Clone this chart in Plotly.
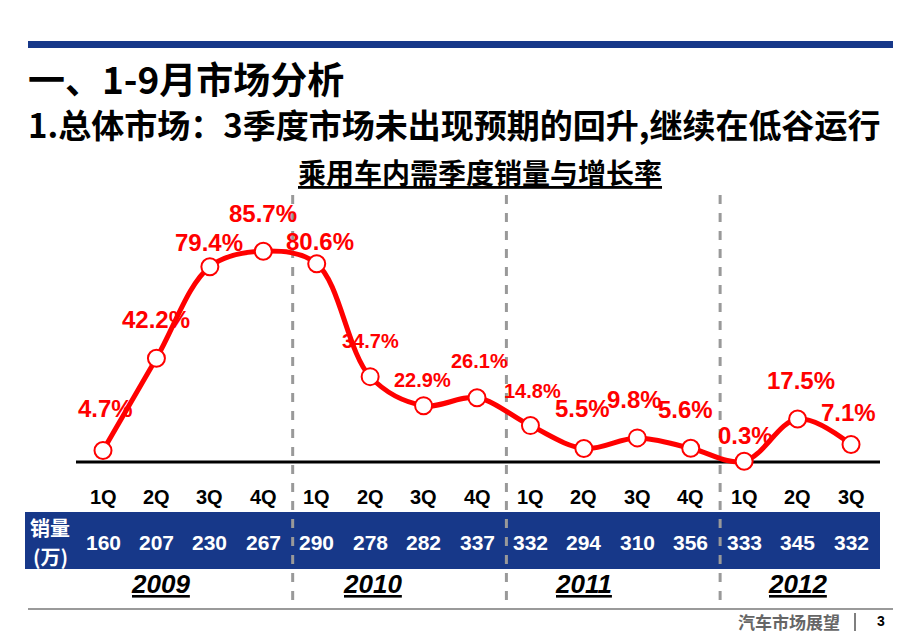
import plotly.graph_objects as go

# dados do grafico
trimestres = ['1Q', '2Q', '3Q', '4Q', '1Q', '2Q', '3Q', '4Q',
              '1Q', '2Q', '3Q', '4Q', '1Q', '2Q', '3Q']
crescimento = [4.7, 42.2, 79.4, 85.7, 80.6, 34.7, 22.9, 26.1,
               14.8, 5.5, 9.8, 5.6, 0.3, 17.5, 7.1]
vendas = [160, 207, 230, 267, 290, 278, 282, 337,
          332, 294, 310, 356, 333, 345, 332]
anos = ['2009', '2010', '2011', '2012']

# a pagina tem margem de 8px no body, entao a figura comeca em (8, 8)
OX, OY = 8, 8
W, H = 912, 629
AZUL = '#173889'
VERMELHO = '#ff0000'
LATIN = 'Liberation Sans, Noto Sans CJK SC, sans-serif'
CJK = 'Noto Sans CJK SC, sans-serif'

# escala: trimestre i -> pixel 103 + 53.43*i ; valor v -> pixel 462 - 2.46*v
PASSO_X, X0 = 53.43, 103
PASSO_Y, Y0 = 2.46, 462
faixa_x = [(OX - X0) / PASSO_X, (OX + W - X0) / PASSO_X]
faixa_y = [(Y0 - OY - H) / PASSO_Y, (Y0 - OY) / PASSO_Y]


def px(x):
    return (x - OX) / W


def py(y):
    return 1 - (y - OY) / H


def texto(t, x, y, size, color='black', family=CJK, xanchor='center', xref='paper'):
    return dict(text=t, xref=xref, yref='paper', x=x if xref == 'x' else px(x), y=py(y),
                xanchor=xanchor, yanchor='middle', showarrow=False,
                font=dict(family=family, size=size, color=color))


idx = list(range(len(crescimento)))

fig = go.Figure()
fig.add_trace(go.Scatter(
    x=idx, y=crescimento, mode='lines+markers',
    line=dict(color=VERMELHO, width=5, shape='spline', smoothing=1),
    marker=dict(size=17, color='white', line=dict(color=VERMELHO, width=2)),
    hoverinfo='skip', showlegend=False,
))

shapes = []
# barra azul do topo
shapes.append(dict(type='rect', xref='paper', yref='paper', x0=px(28), x1=px(893),
                   y0=py(48), y1=py(41), fillcolor=AZUL, line_width=0, layer='below'))
# faixa azul da tabela
shapes.append(dict(type='rect', xref='paper', yref='paper', x0=px(25), x1=px(880),
                   y0=py(569), y1=py(512), fillcolor=AZUL, line_width=0, layer='below'))
# linha base
shapes.append(dict(type='line', xref='paper', yref='y', x0=px(76), x1=px(880),
                   y0=0, y1=0, line=dict(color='black', width=3), layer='below'))
# separadores dos anos
for s in [3.55, 7.55, 11.55]:
    shapes.append(dict(type='line', xref='x', yref='paper', x0=s, x1=s,
                       y0=py(600), y1=py(195),
                       line=dict(color='#999999', width=3, dash='dash'), layer='below'))
# linha do rodape
shapes.append(dict(type='line', xref='paper', yref='paper', x0=px(28), x1=px(893),
                   y0=py(609), y1=py(609), line=dict(color='#9a9a9a', width=2)))
shapes.append(dict(type='line', xref='paper', yref='paper', x0=px(855), x1=px(855),
                   y0=py(631), y1=py(613), line=dict(color='#555555', width=1.5)))

ann = []
# titulos
ann.append(texto('<b>一、1-9月市场分析</b>', 26, 78, 37, xanchor='left'))
ann.append(texto('<b>1.总体市场：3季度市场未出现预期的回升,继续在低谷运行</b>', 26, 124, 33,
                 xanchor='left'))
ann.append(texto('<b><u>乘用车内需季度销量与增长率</u></b>', 480, 172, 28))

# rotulos de crescimento
dx = [2, 0, -1, 0, 3, 0, -1, 2, 2, -1, -3, -5, 1, 3, -3]
dy = [42, 39, 24, 38, 22, 36, 26, 37, 35, 40, 38, 39, 26, 38, 32]
pequenos = {5, 6, 7, 8}
for i, v in enumerate(crescimento):
    ann.append(dict(text='<b>%.1f%%</b>' % v, x=i, y=v, xref='x', yref='y',
                    xanchor='center', yanchor='middle',
                    xshift=dx[i], yshift=dy[i], showarrow=False,
                    font=dict(family=LATIN, size=20 if i in pequenos else 24,
                              color=VERMELHO)))

# trimestres e vendas
for i, q in enumerate(trimestres):
    ann.append(texto('<b>%s</b>' % q, i, 497, 20, family=LATIN, xref='x'))
    ann.append(texto('<b>%d</b>' % vendas[i], i, 542, 21, color='white', family=LATIN,
                     xref='x'))
ann.append(texto('<b>销量</b>', 50, 527, 20, color='white'))
ann.append(texto('<b>(万)</b>', 50, 556, 20, color='white'))

# anos
pos_anos = [1.07, 5.05, 9.0, 13.0]
for a, p in zip(anos, pos_anos):
    ann.append(texto('<b><i><u>%s</u></i></b>' % a, p, 584, 26, family=LATIN, xref='x'))

# rodape
ann.append(texto('<b>汽车市场展望</b>', 842, 621, 17, color='#666666', xanchor='right'))
ann.append(texto('<b>3</b>', 881, 621, 14, family=LATIN))

fig.update_layout(
    width=W, height=H, margin=dict(l=0, r=0, t=0, b=0),
    paper_bgcolor='white', plot_bgcolor='white',
    xaxis=dict(range=faixa_x, showgrid=False, zeroline=False, showticklabels=False,
               showline=False, fixedrange=True),
    yaxis=dict(range=faixa_y, showgrid=False, zeroline=False, showticklabels=False,
               showline=False, fixedrange=True),
    shapes=shapes, annotations=ann,
)

fig.write_html('out.html')
